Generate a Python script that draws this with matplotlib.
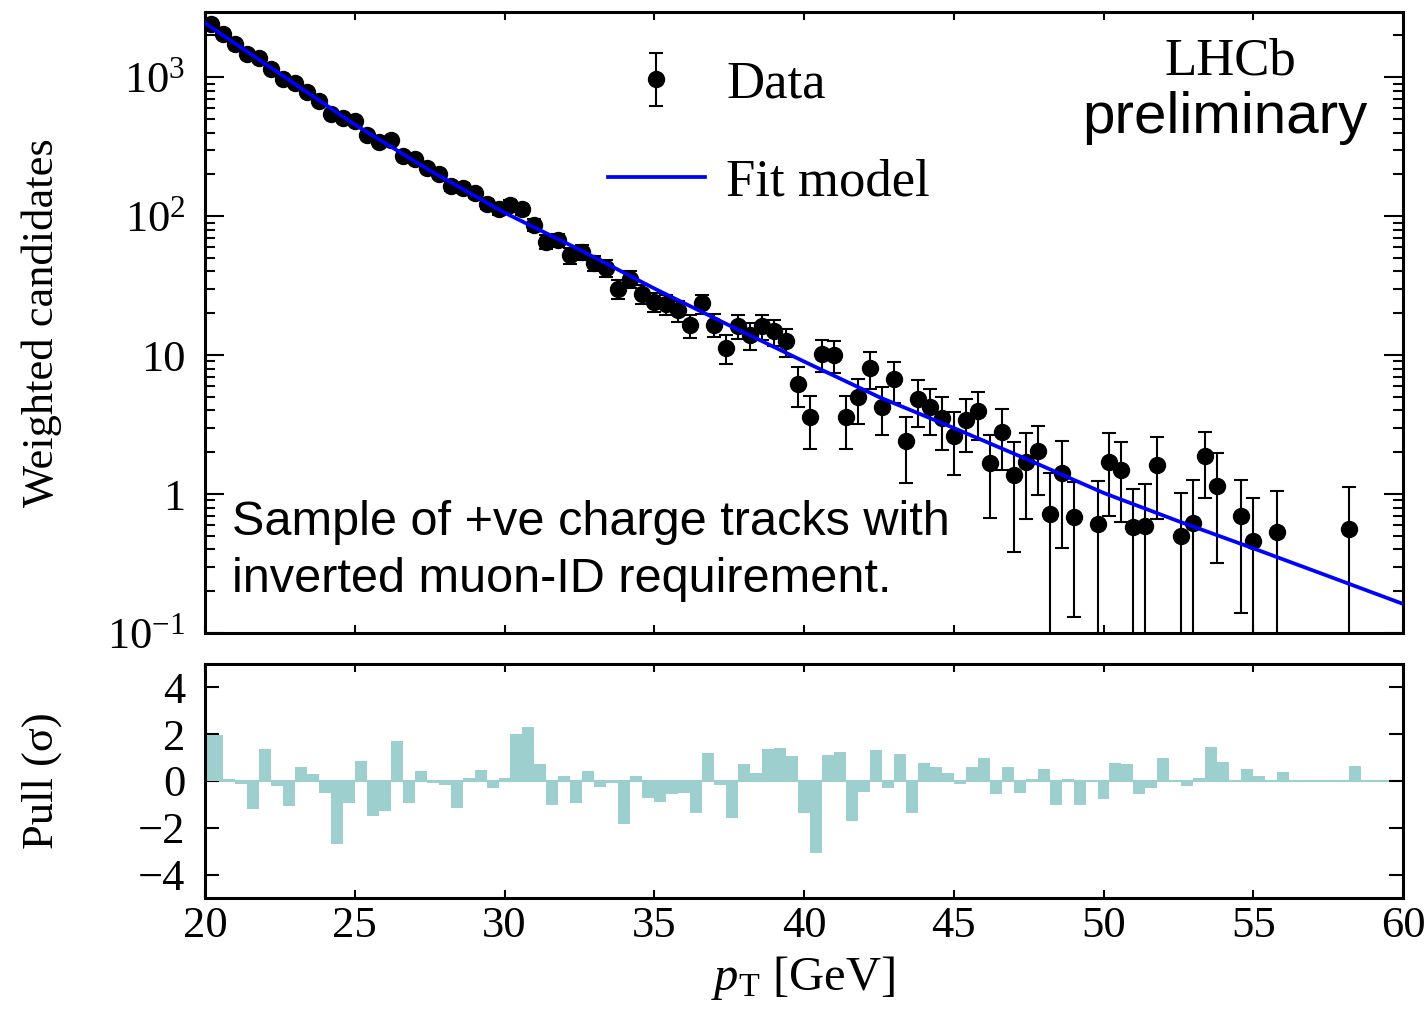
import numpy as np
import matplotlib
matplotlib.use("Agg")
import matplotlib.pyplot as plt
from matplotlib.ticker import FixedLocator, FixedFormatter, LogLocator, NullFormatter, MultipleLocator

plt.rcParams['font.family'] = ['Liberation Serif', 'DejaVu Serif']
plt.rcParams['mathtext.fontset'] = 'custom'
plt.rcParams['mathtext.rm'] = 'Liberation Serif'
plt.rcParams['mathtext.it'] = 'Liberation Serif:italic'
plt.rcParams['mathtext.bf'] = 'Liberation Serif:bold'

# ---------------- data ----------------
pt_low, pt_high, n_bins = 20.0, 60.0, 100
nan = np.nan

# weighted candidates per 0.4 GeV bin (bin centres 20.2 ... 59.8)
counts = [
    2400, 2040, 1730, 1465, 1385, 1140, 965, 905, 785, 672,      # 20.2 - 23.8
    540, 512, 484, 387, 341, 356, 270, 259, 223, 200,            # 24.2 - 27.8
    164, 160, 147, 123, 112, 121, 112, 87, 65.5, 67,             # 28.2 - 31.8
    52.5, 55.3, 46, 42.7, 30, 35.6, 27.7, 24.2, 23.3, 21,        # 32.2 - 35.8
    16.4, 23.6, 16.6, 11.3, 16.2, 13.9, 16.2, 14.8, 12.6, 6.2,   # 36.2 - 39.8
    3.57, 10.2, 10.0, 3.57, 4.97, 8.1, 4.26, 6.7, 2.41, 4.85,    # 40.2 - 43.8
    4.2, 3.52, 2.63, 3.42, 3.97, 1.67, 2.78, 1.38, 1.71, 2.04,   # 44.2 - 47.8
    0.72, 1.41, 0.68, nan, 0.61, 1.71, 1.50, 0.58, 0.59, 1.61,   # 48.2 - 51.8
    nan, 0.50, 0.62, 1.87, 1.14, nan, 0.70, 0.46, nan, 0.53,     # 52.2 - 55.8
    nan, nan, nan, nan, nan, 0.56, nan, nan, nan, nan,           # 56.2 - 59.8
]
errors = [
    45, 42, 38, 35, 34, 31, 28, 27, 25, 23,
    21, 20, 20, 18, 17, 17, 15, 15, 14, 13,
    12, 12, 11, 10, 9.6, 10, 9.6, 8.4, 7.3, 7.4,
    7.0, 6.8, 6.0, 6.0, 4.7, 5.0, 4.5, 3.8, 4.0, 3.6,
    3.2, 3.7, 3.2, 2.7, 3.2, 3.0, 3.3, 3.2, 2.9, 2.0,
    1.47, 2.6, 2.6, 1.47, 1.8, 2.4, 1.6, 2.2, 1.2, 1.8,
    1.55, 1.45, 1.25, 1.4, 1.5, 1.0, 1.3, 1.0, 1.05, 1.05,
    0.7, 1.0, 0.55, nan, 0.63, 1.02, 0.87, 0.5, 0.6, 0.95,
    nan, 0.52, 0.64, 0.94, 0.82, nan, 0.56, 0.48, nan, 0.53,
    nan, nan, nan, nan, nan, 0.57, nan, nan, nan, nan,
]
pulls = [
    1.96, 0.07, -0.14, -1.18, 1.38, -0.21, -1.06, 0.61, 0.31, -0.52,
    -2.70, -0.92, 0.84, -1.49, -1.28, 1.69, -0.95, 0.41, -0.10, -0.16,
    -1.15, 0.11, 0.48, -0.30, 0.14, 1.99, 2.31, 0.74, -1.01, 0.23,
    -0.92, 0.43, -0.26, -0.10, -1.84, 0.20, -0.71, -0.89, -0.54, -0.50,
    -1.38, 1.19, -0.18, -1.60, 0.72, 0.34, 1.35, 1.39, 1.08, -1.38,
    -3.08, 1.10, 1.25, -1.69, -0.45, 1.33, -0.28, 1.16, -1.36, 0.77,
    0.61, 0.34, -0.13, 0.61, 1.00, -0.54, 0.61, -0.52, 0.07, 0.50,
    -1.04, 0.10, -1.01, 0.0, -0.75, 0.78, 0.72, -0.54, -0.31, 0.99,
    0.0, -0.21, 0.13, 1.46, 0.82, 0.0, 0.52, 0.20, 0.0, 0.40,
    0.0, 0.0, 0.0, 0.0, 0.0, 0.64, 0.0, 0.0, 0.0, 0.0,
]
# fit model
model_pt = [20.0, 22.5, 25.0, 27.5, 30.0, 32.5, 35.0, 37.5, 40.0, 42.5,
            45.0, 47.5, 50.0, 52.5, 55.0, 57.5, 60.0]
model_val = [2455, 1059, 457, 214, 106, 57.5, 30.2, 16.4, 9.0, 5.0,
             2.99, 1.76, 1.02, 0.638, 0.407, 0.257, 0.162]

# ---------------- figure ----------------
W, H = 1427, 1015
fig = plt.figure(figsize=(W / 100, H / 100), dpi=100)
ax = fig.add_axes([205 / W, 1 - 633 / H, 1198 / W, 621 / H])
ax2 = fig.add_axes([205 / W, 1 - 898 / H, 1198 / W, 234 / H])

edges = np.linspace(pt_low, pt_high, n_bins + 1)
centers = 0.5 * (edges[:-1] + edges[1:])
c = np.array(counts, float)
e = np.array(errors, float)
m = ~np.isnan(c)
lo = np.minimum(e, c * 0.999)

data_h = ax.errorbar(centers[m], c[m], yerr=[lo[m], e[m]], fmt='o', color='black',
                     ms=11.5, elinewidth=1.5, capsize=5, capthick=1.5, label='Data', zorder=3)
fit_h, = ax.plot(model_pt, model_val, color='#0000ff', lw=2.7, label='Fit model', zorder=4)

teal = '#9ecfcf'
p = np.array(pulls, float)
left = centers.copy()
width = np.full(n_bins, edges[1] - edges[0])
left[0] = pt_low
width[0] = centers[1] - pt_low
ax2.axhline(0, color=teal, lw=1.5, zorder=1)
ax2.bar(left, p, width=width, align='edge', color=teal, edgecolor='none', zorder=2)

for a in (ax, ax2):
    a.set_xlim(pt_low, pt_high)
    a.xaxis.set_major_locator(MultipleLocator(5))
    a.tick_params(which='both', direction='in', top=True, right=True, width=1.5)
    for s in a.spines.values():
        s.set_linewidth(2.2)

ax.set_yscale('log')
ax.set_ylim(0.1, 2950)
ax.yaxis.set_major_locator(FixedLocator([0.1, 1, 10, 100, 1000]))
ax.yaxis.set_major_formatter(FixedFormatter([r'$10^{-1}$', '1', '10', r'$10^{2}$', r'$10^{3}$']))
ax.yaxis.set_minor_locator(LogLocator(base=10, subs=np.arange(2, 10), numticks=20))
ax.yaxis.set_minor_formatter(NullFormatter())
ax.tick_params(axis='x', labelbottom=False, length=6)
ax.tick_params(axis='y', which='major', length=14, labelsize=32, pad=14)
ax.tick_params(axis='y', which='minor', length=7)

ax2.set_ylim(-5, 5)
ax2.yaxis.set_major_locator(FixedLocator([-4, -2, 0, 2, 4]))
ax2.tick_params(axis='y', length=10, labelsize=32, pad=14)
ax2.tick_params(axis='x', length=6, labelsize=32, pad=6)

ax.set_ylabel('Weighted candidates', fontsize=32)
ax.yaxis.set_label_coords(-0.119, 0.5)
ax2.set_ylabel('Pull (σ)', fontsize=32)
ax2.yaxis.set_label_coords(-0.119, 0.5)
ax2.set_xlabel(r'$p_{\mathrm{T}}$ [GeV]', fontsize=35, ha='right')
ax2.xaxis.set_label_coords(0.576, -0.24)

ax.legend(handles=[data_h, fit_h], labels=['Data', 'Fit model'],
          loc='center left', bbox_to_anchor=(0.336, 0.804), frameon=False, fontsize=38,
          handlelength=1.85, handletextpad=0.4, labelspacing=0.95, borderpad=0,
          borderaxespad=0)

ax.text(0.8556, 0.9195, 'LHCb', transform=ax.transAxes, ha='center', va='center', fontsize=38)
ax.text(0.851, 0.829, 'preliminary', transform=ax.transAxes, ha='center', va='center',
        fontsize=42, family=['Liberation Sans', 'DejaVu Sans'])
ax.text(0.0225, 0.158, 'Sample of +ve charge tracks with', transform=ax.transAxes,
        ha='left', va='baseline', fontsize=35, family=['Liberation Sans', 'DejaVu Sans'])
ax.text(0.0225, 0.066, 'inverted muon-ID requirement.', transform=ax.transAxes,
        ha='left', va='baseline', fontsize=35, family=['Liberation Sans', 'DejaVu Sans'])

fig.savefig('out.png', dpi=100)
